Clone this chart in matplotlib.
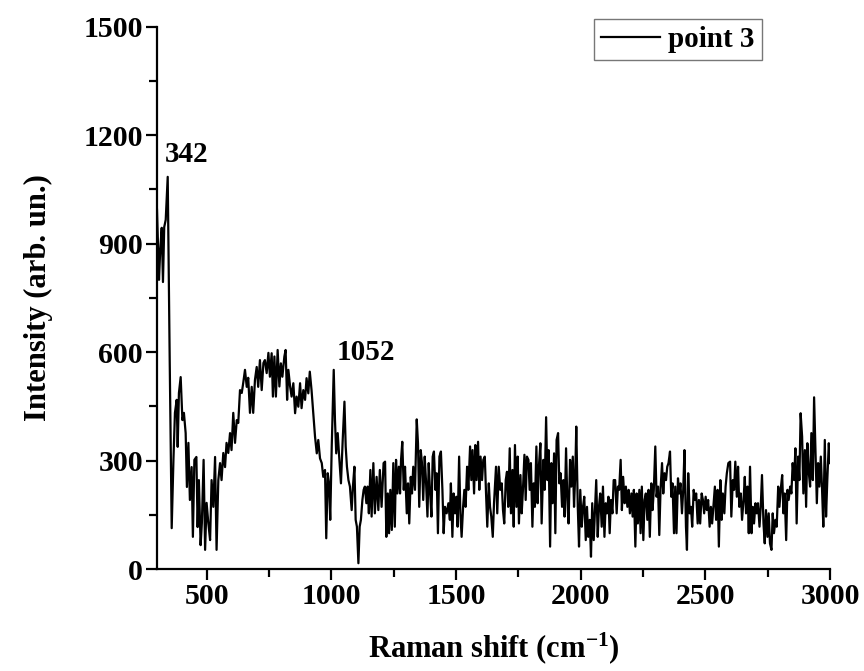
import matplotlib
matplotlib.use('Agg')
import matplotlib.pyplot as plt
from matplotlib.ticker import MultipleLocator

# --- Spectrum (Raman shift in cm-1, intensity in arb. un.) ---

shift_a = [300, 308, 313, 319, 324, 329, 335, 343, 351, 359, 366, 372, 379, 383, 388,
           395, 402, 408, 415, 420, 426, 432, 439, 444, 450, 458, 463, 468, 475, 480,
           487, 493, 499, 506, 513, 519, 526, 533, 539, 546, 553, 559, 566, 573, 579,
           586, 593, 599, 606, 613, 620, 626, 633, 640, 646, 653, 660, 666, 673, 680,
           686, 693, 700, 706, 713, 720, 727, 733, 740, 747]
inten_a = [994, 800, 883, 944, 794, 946, 966, 1085, 578, 113, 302, 432, 468, 338, 487,
           531, 412, 432, 376, 227, 349, 191, 282, 89, 302, 310, 116, 246, 66, 127,
           302, 53, 183, 127, 80, 246, 172, 310, 53, 246, 293, 246, 321, 282, 349,
           321, 376, 329, 432, 349, 412, 404, 495, 487, 515, 551, 504, 529, 432, 504,
           432, 523, 559, 504, 578, 495, 570, 578, 542, 598]

shift_b = [753, 760, 765, 771, 777, 784, 791, 797, 803, 811, 816, 822, 827, 834, 840,
           847, 854, 860, 867, 874, 880, 887, 894, 900, 907, 913, 920, 927, 934, 941,
           947, 954, 961, 967, 974, 979, 985, 990, 995, 1001, 1009, 1014, 1019, 1025, 1030,
           1038, 1045, 1052, 1057, 1062, 1068, 1074, 1081, 1086, 1092, 1097, 1102, 1108, 1113, 1118,
           1124, 1129, 1134, 1140, 1145, 1150, 1156, 1161, 1168, 1174, 1181, 1188, 1194, 1201, 1209]
inten_b = [532, 597, 477, 588, 477, 606, 505, 569, 532, 588, 606, 468, 551, 505, 477,
           514, 431, 477, 449, 514, 445, 495, 468, 528, 486, 546, 495, 431, 366, 320,
           357, 306, 293, 255, 274, 85, 265, 237, 136, 339, 551, 412, 320, 376, 320,
           237, 357, 463, 339, 283, 246, 228, 163, 228, 283, 136, 117, 16, 117, 136,
           191, 219, 228, 182, 228, 154, 274, 145, 293, 154, 255, 163, 274, 172, 293]

shift_c = [1215, 1220, 1226, 1231, 1236, 1242, 1248, 1254, 1259, 1264, 1270, 1275, 1279, 1284, 1290,
           1295, 1302, 1307, 1312, 1318, 1323, 1328, 1335, 1342, 1347, 1352, 1358, 1363, 1368, 1374,
           1379, 1385, 1390, 1395, 1401, 1406, 1411, 1417, 1422, 1427, 1433, 1439, 1445, 1450, 1455,
           1462, 1469, 1475, 1479, 1485, 1490, 1496, 1501, 1506, 1512, 1517, 1522, 1528, 1533, 1538,
           1544, 1549, 1556, 1561, 1566, 1572, 1577, 1582, 1588, 1593, 1598, 1604, 1609, 1615, 1620,
           1625, 1631, 1636, 1641, 1647, 1652, 1660, 1665, 1671]
inten_c = [297, 89, 209, 99, 219, 108, 293, 117, 302, 209, 283, 209, 302, 352, 219,
           283, 154, 237, 126, 255, 209, 283, 219, 414, 348, 172, 329, 293, 191, 311,
           246, 145, 293, 219, 145, 311, 325, 219, 265, 99, 311, 325, 219, 99, 172,
           154, 182, 136, 237, 89, 209, 154, 200, 117, 311, 154, 89, 172, 219, 172,
           283, 219, 339, 246, 329, 209, 343, 246, 352, 219, 311, 246, 302, 311, 209,
           117, 237, 172, 145, 89, 182, 283, 154, 283]

shift_d = [1677, 1683, 1688, 1693, 1699, 1704, 1709, 1715, 1720, 1726, 1731, 1736, 1742, 1747, 1752,
           1758, 1763, 1768, 1774, 1779, 1784, 1790, 1795, 1800, 1806, 1811, 1816, 1822, 1827, 1832,
           1838, 1843, 1850, 1855, 1861, 1866, 1871, 1877, 1882, 1887, 1893, 1898, 1903, 1909, 1914,
           1919, 1925, 1930, 1935, 1941, 1946, 1951, 1957, 1962, 1968, 1973, 1978, 1982, 1988, 1993,
           1998, 2004, 2009, 2014, 2020, 2025, 2030, 2036, 2041, 2046, 2052, 2057, 2062, 2068, 2073,
           2078, 2084, 2089, 2095, 2100, 2105, 2111, 2116, 2121, 2127, 2132]
inten_d = [219, 237, 163, 126, 246, 269, 172, 334, 154, 274, 117, 343, 172, 311, 126,
           260, 154, 219, 316, 191, 311, 302, 219, 293, 117, 237, 172, 339, 182, 283,
           348, 126, 302, 219, 420, 246, 329, 62, 293, 182, 320, 99, 357, 376, 237,
           265, 172, 246, 145, 334, 191, 126, 302, 228, 311, 172, 265, 394, 172, 62,
           219, 117, 172, 200, 80, 172, 89, 136, 34, 182, 80, 163, 246, 89, 172,
           209, 117, 228, 89, 182, 154, 200, 99, 191, 154, 246]

shift_e = [2138, 2144, 2149, 2154, 2160, 2165, 2170, 2176, 2181, 2187, 2192, 2197, 2203, 2208, 2213,
           2219, 2224, 2229, 2235, 2240, 2245, 2251, 2256, 2261, 2267, 2272, 2277, 2283, 2288, 2293,
           2299, 2304, 2310, 2315, 2320, 2326, 2331, 2336, 2342, 2347, 2352, 2358, 2363, 2368, 2374,
           2379, 2384, 2390, 2395, 2400, 2406, 2411, 2416, 2422, 2426, 2431, 2437, 2442, 2447, 2453,
           2458, 2463, 2469, 2474, 2479, 2485, 2490, 2495, 2501, 2506, 2511, 2517, 2522, 2527, 2533,
           2538, 2543, 2549, 2554, 2560, 2565, 2570, 2576, 2581, 2586, 2592]
inten_e = [246, 154, 228, 219, 302, 163, 255, 182, 228, 172, 219, 154, 209, 145, 219,
           62, 209, 126, 219, 99, 228, 80, 191, 209, 136, 219, 89, 237, 163, 219,
           339, 200, 228, 94, 219, 293, 209, 265, 246, 283, 293, 325, 200, 237, 99,
           228, 99, 251, 209, 237, 154, 219, 329, 117, 53, 265, 154, 172, 117, 219,
           191, 209, 126, 191, 126, 209, 191, 154, 200, 163, 191, 117, 172, 126, 182,
           228, 136, 219, 62, 246, 136, 209, 154, 228, 265, 293]

shift_f = [2599, 2604, 2610, 2615, 2620, 2626, 2631, 2636, 2642, 2647, 2653, 2658, 2663, 2669, 2674,
           2679, 2685, 2690, 2695, 2701, 2706, 2711, 2717, 2722, 2727, 2733, 2738, 2743, 2749, 2754,
           2759, 2765, 2770, 2775, 2781, 2786, 2792, 2797, 2802, 2808, 2813, 2818, 2824, 2829, 2834,
           2840, 2845, 2850, 2856, 2861, 2866, 2872, 2877, 2882, 2888, 2893, 2899, 2904, 2909, 2915,
           2920, 2925, 2931, 2936, 2941, 2947, 2952, 2957, 2963, 2968, 2973, 2979, 2984, 2989, 2995, 3000]
inten_f = [297, 145, 246, 219, 297, 200, 283, 172, 209, 136, 191, 255, 154, 228, 99,
           283, 99, 172, 126, 182, 154, 182, 117, 172, 260, 126, 71, 163, 89, 154,
           71, 53, 154, 99, 136, 117, 228, 172, 219, 260, 154, 209, 80, 219, 191,
           228, 209, 293, 246, 334, 126, 311, 246, 431, 366, 209, 329, 172, 348, 265,
           228, 376, 246, 475, 339, 182, 293, 228, 311, 219, 117, 357, 145, 246, 348, 293]

shift = shift_a + shift_b + shift_c + shift_d + shift_e + shift_f
intensity = inten_a + inten_b + inten_c + inten_d + inten_e + inten_f

peak_labels = ['342', '1052']
peak_text_pos = [(332, 1146), (1022, 598)]

# --- Plotting ---

plt.rcParams['font.family'] = ['Liberation Serif', 'DejaVu Serif']
plt.rcParams['font.weight'] = 'bold'
plt.rcParams['mathtext.fontset'] = 'custom'
plt.rcParams['mathtext.rm'] = 'Liberation Serif:bold'
plt.rcParams['mathtext.it'] = 'Liberation Serif:bold'
plt.rcParams['mathtext.bf'] = 'Liberation Serif:bold'

fig = plt.figure(figsize=(8.64, 6.71), dpi=100)
ax = fig.add_axes([0.1817, 0.152, 0.779, 0.808])

ax.plot(shift, intensity, color='black', linewidth=1.6, label='point 3')

for txt, (tx, ty) in zip(peak_labels, peak_text_pos):
    ax.text(tx, ty, txt, fontsize=21, fontweight='bold', ha='left', va='center')

ax.set_xlim(300, 3000)
ax.set_ylim(0, 1500)
ax.xaxis.set_major_locator(MultipleLocator(500))
ax.xaxis.set_minor_locator(MultipleLocator(250))
ax.yaxis.set_major_locator(MultipleLocator(300))
ax.yaxis.set_minor_locator(MultipleLocator(150))

for side in ['top', 'right']:
    ax.spines[side].set_visible(False)
for side in ['left', 'bottom']:
    ax.spines[side].set_linewidth(1.6)

ax.tick_params(which='major', direction='out', length=8, width=1.6,
               labelsize=21.5, pad=2)
ax.tick_params(which='minor', direction='out', length=5.5, width=1.6)
for lbl in ax.get_xticklabels() + ax.get_yticklabels():
    lbl.set_fontweight('bold')

ax.set_xlabel(r'Raman shift (cm$^{-1}$)', fontsize=22, fontweight='bold', labelpad=15)
ax.set_ylabel('Intensity (arb. un.)', fontsize=22, fontweight='bold', labelpad=22)

leg = ax.legend(loc='upper right', bbox_to_anchor=(0.899, 1.015), borderaxespad=0,
                frameon=True, fancybox=False, handlelength=2.0,
                handletextpad=0.3, borderpad=0.25, prop={'weight': 'bold', 'size': 21})
leg.get_frame().set_edgecolor('#555555')
leg.get_frame().set_linewidth(1.0)

plt.savefig('out.png', dpi=100)
